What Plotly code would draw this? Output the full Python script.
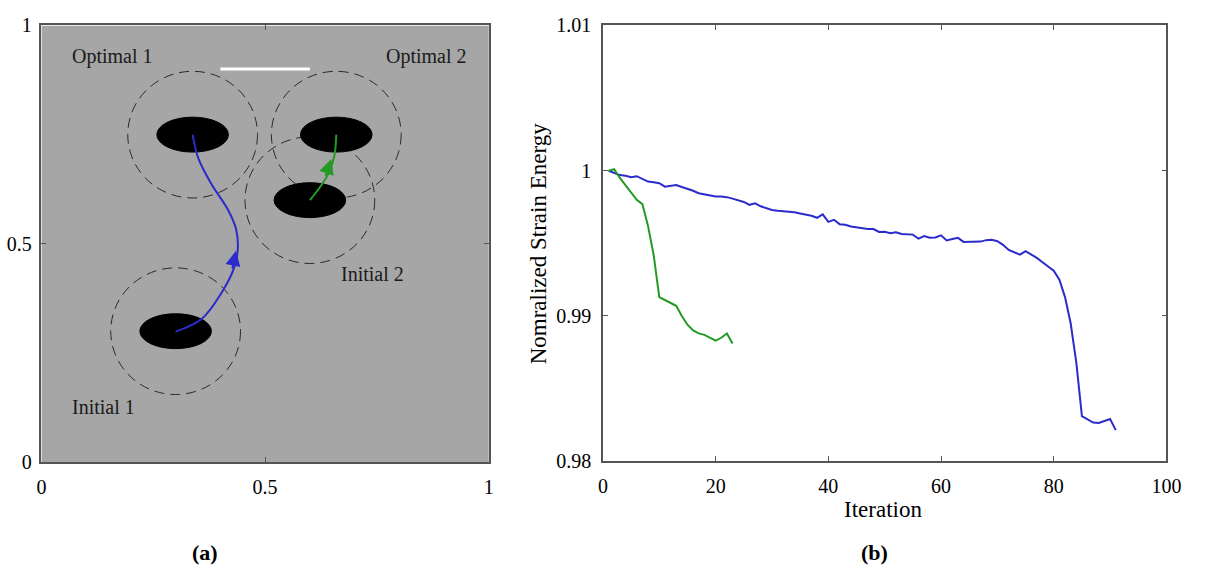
import plotly.graph_objects as go

# ---------------- panel (b): strain energy history ----------------
blue_iter = list(range(1, 92))
blue_energy = [
    1.00000, 0.99985, 0.99970, 0.99965, 0.99955, 0.99962, 0.99945, 0.99925, 0.99920, 0.99914,
    0.99890, 0.99895, 0.99902, 0.99888, 0.99876, 0.99862, 0.99845, 0.99838, 0.99830, 0.99823,
    0.99822, 0.99818, 0.99808, 0.99795, 0.99785, 0.99765, 0.99775, 0.99755, 0.99740, 0.99730,
    0.99724, 0.99722, 0.99720, 0.99714, 0.99706, 0.99700, 0.99690, 0.99676, 0.99700, 0.99648,
    0.99662, 0.99632, 0.99628, 0.99616, 0.99610, 0.99603, 0.99598, 0.99598, 0.99578, 0.99580,
    0.99570, 0.99576, 0.99565, 0.99562, 0.99560, 0.99532, 0.99550, 0.99538, 0.99540, 0.99555,
    0.99520, 0.99530, 0.99538, 0.99510, 0.99512, 0.99515, 0.99512, 0.99522, 0.99524, 0.99515,
    0.99490, 0.99455, 0.99440, 0.99422, 0.99446, 0.99425, 0.99400, 0.99370, 0.99340, 0.99311,
    0.99250, 0.99130, 0.98950, 0.98680, 0.98310, 0.98290, 0.98266, 0.98264, 0.98275, 0.98291,
    0.98214,
]
green_iter = list(range(1, 24))
green_energy = [
    1.00000, 1.00010, 0.99950, 0.99900, 0.99850, 0.99800, 0.99770, 0.99620, 0.99420, 0.99130,
    0.99110, 0.99090, 0.99070, 0.99000, 0.98940, 0.98900, 0.98880, 0.98870, 0.98850, 0.98830,
    0.98850, 0.98880, 0.98810,
]
energy_ticks = [0.98, 0.99, 1.00, 1.01]
energy_ticktext = ["0.98", "0.99", "1", "1.01"]
iter_ticks = [0, 20, 40, 60, 80, 100]

# ---------------- panel (a): hole layout ----------------
hole_names = ["Initial 1", "Optimal 1", "Initial 2", "Optimal 2"]
hole_cx = [0.300, 0.338, 0.600, 0.659]
hole_cy = [0.300, 0.750, 0.600, 0.750]
hole_a = 0.080      # horizontal semi-axis
hole_b = 0.040      # vertical semi-axis
region_r = 0.145    # dashed influence circle radius

label_x = [0.138, 0.160, 0.741, 0.860]
label_y = [0.126, 0.930, 0.431, 0.930]

bar_x = [0.40, 0.60]
bar_y = [0.90, 0.90]

blue_path_x = [0.300, 0.358, 0.402, 0.431, 0.439, 0.435, 0.417, 0.380, 0.351, 0.338]
blue_path_y = [0.299, 0.328, 0.387, 0.446, 0.490, 0.534, 0.578, 0.637, 0.695, 0.750]
green_path_x = [0.600, 0.622, 0.644, 0.655, 0.659]
green_path_y = [0.600, 0.629, 0.666, 0.703, 0.750]
blue_arrow = dict(tip=(0.435, 0.484), tail=(0.426, 0.440))
green_arrow = dict(tip=(0.648, 0.694), tail=(0.634, 0.652))

BLUE = "#2b2bcc"
GREEN = "#239a23"
FONT = "Liberation Serif"
FRAME = "#555555"

W, H = 1208, 580
# plotting areas in pixels (left, right, top, bottom)
pa = (37, 492, 15, 469)
pb = (608, 1181, 15, 468)


def dom_x(p):
    return [p[0] / W, p[1] / W]


def dom_y(p):
    return [1 - p[3] / H, 1 - p[2] / H]


fig = go.Figure()

# paths of the holes
fig.add_trace(go.Scatter(x=blue_path_x, y=blue_path_y, mode="lines",
                         line=dict(color=BLUE, width=2, shape="spline", smoothing=1.0),
                         xaxis="x", yaxis="y", showlegend=False, hoverinfo="skip"))
fig.add_trace(go.Scatter(x=green_path_x, y=green_path_y, mode="lines",
                         line=dict(color=GREEN, width=2, shape="spline", smoothing=1.0),
                         xaxis="x", yaxis="y", showlegend=False, hoverinfo="skip"))

# energy histories
fig.add_trace(go.Scatter(x=blue_iter, y=blue_energy, mode="lines",
                         line=dict(color=BLUE, width=2),
                         xaxis="x2", yaxis="y2", showlegend=False))
fig.add_trace(go.Scatter(x=green_iter, y=green_energy, mode="lines",
                         line=dict(color=GREEN, width=2),
                         xaxis="x2", yaxis="y2", showlegend=False))

shapes = [dict(type="rect", xref="x", yref="y", x0=0, x1=1, y0=0, y1=1,
               fillcolor="#a6a6a6", line=dict(width=0), layer="below")]
for cx, cy in zip(hole_cx, hole_cy):
    shapes.append(dict(type="circle", xref="x", yref="y",
                       x0=cx - region_r, x1=cx + region_r, y0=cy - region_r, y1=cy + region_r,
                       line=dict(color="#2a2a2a", width=1, dash="10px,6px"), layer="below"))
for cx, cy in zip(hole_cx, hole_cy):
    shapes.append(dict(type="circle", xref="x", yref="y",
                       x0=cx - hole_a, x1=cx + hole_a, y0=cy - hole_b, y1=cy + hole_b,
                       fillcolor="black", line=dict(color="black", width=1), layer="below"))
shapes.append(dict(type="line", xref="x", yref="y", x0=bar_x[0], x1=bar_x[1],
                   y0=bar_y[0], y1=bar_y[1], line=dict(color="white", width=3), layer="below"))

annotations = []
for name, lx, ly in zip(hole_names, label_x, label_y):
    annotations.append(dict(xref="x", yref="y", x=lx, y=ly, text=name, showarrow=False,
                            xanchor="center", yanchor="middle",
                            font=dict(family=FONT, size=20, color="#1a1a1a")))
for arr, col in ((blue_arrow, BLUE), (green_arrow, GREEN)):
    annotations.append(dict(xref="x", yref="y", axref="x", ayref="y",
                            x=arr["tip"][0], y=arr["tip"][1],
                            ax=arr["tail"][0], ay=arr["tail"][1],
                            text="", showarrow=True, arrowhead=2, arrowsize=1.5,
                            arrowwidth=2, arrowcolor=col))

# axis titles and panel captions
title_font = dict(family=FONT, size=23, color="black")
caption_font = dict(family=FONT, size=22, color="black")
annotations += [
    dict(xref="paper", yref="paper", x=893 / W, y=1 - 518 / H, text="Iteration",
         xanchor="center", yanchor="middle", showarrow=False, font=title_font),
    dict(xref="paper", yref="paper", x=542 / W, y=1 - 241.5 / H,
         text="Nomralized Strain Energy", textangle=-90,
         xanchor="center", yanchor="middle", showarrow=False, font=title_font),
    dict(xref="paper", yref="paper", x=203 / W, y=1 - 563 / H, text="<b>(a)</b>",
         xanchor="center", yanchor="middle", showarrow=False, font=caption_font),
    dict(xref="paper", yref="paper", x=884 / W, y=1 - 563 / H, text="<b>(b)</b>",
         xanchor="center", yanchor="middle", showarrow=False, font=caption_font),
]

axis_common = dict(showline=True, mirror="ticks", linecolor=FRAME, linewidth=1.5,
                   ticks="inside", ticklen=5, tickcolor=FRAME, tickwidth=1,
                   showgrid=False, zeroline=False,
                   tickfont=dict(family=FONT, size=20, color="black"))

fig.update_layout(
    width=W, height=H,
    margin=dict(l=0, r=0, t=0, b=0),
    paper_bgcolor="white", plot_bgcolor="white",
    xaxis=dict(domain=dom_x(pa), range=[0, 1], tickvals=[0, 0.5, 1],
               ticktext=["0", "0.5", "1"], anchor="y", ticklabelstandoff=6, **axis_common),
    yaxis=dict(domain=dom_y(pa), range=[0, 1], tickvals=[0, 0.5, 1],
               ticktext=["0", "0.5", "1"], anchor="x", ticklabelstandoff=4, **axis_common),
    xaxis2=dict(domain=dom_x(pb), range=[0, 100], tickvals=iter_ticks, anchor="y2",
                ticklabelstandoff=6, **axis_common),
    yaxis2=dict(domain=dom_y(pb), range=[0.98, 1.01], tickvals=energy_ticks,
                ticktext=energy_ticktext, anchor="x2", ticklabelstandoff=6, **axis_common),
    shapes=shapes,
    annotations=annotations,
)

fig.write_html("out.html")
